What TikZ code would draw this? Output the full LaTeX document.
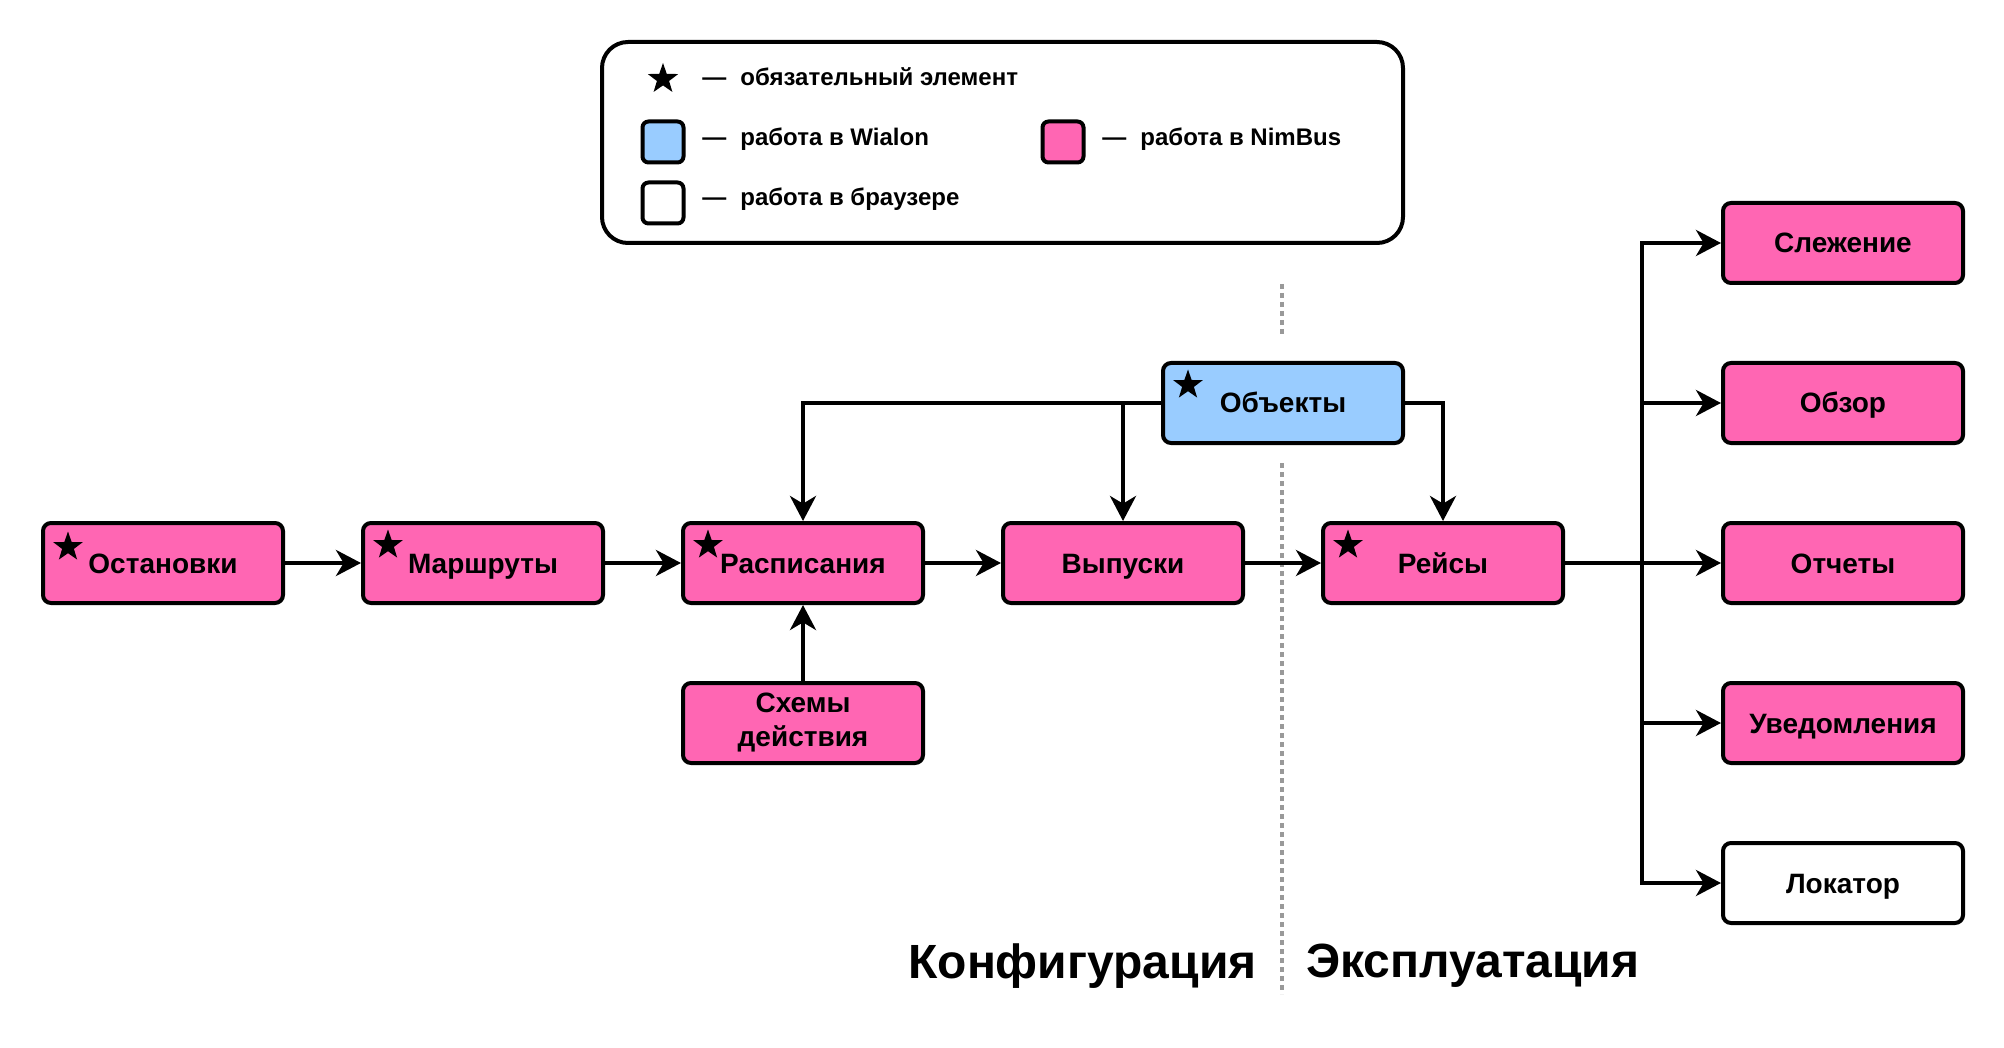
\documentclass[tikz,border=0pt]{standalone}
\usepackage{fontspec}
\setmainfont{Liberation Sans}
\usetikzlibrary{arrows.meta,shapes.geometric}
\definecolor{pinkc}{HTML}{FF66B3}
\definecolor{bluec}{HTML}{99CCFF}
\definecolor{grayc}{HTML}{999999}
\newcommand{\boxstrut}{\rule[-3pt]{0pt}{16pt}}
\newcommand{\tallstrut}{\rule{0pt}{16pt}}
\tikzset{
  box/.style={draw=black, line width=2pt, rounded corners=4pt, minimum width=120pt, minimum height=40pt, inner sep=0pt, font=\fontsize{14pt}{17pt}\selectfont\bfseries, align=center, execute at begin node=\boxstrut},
  pinkbox/.style={box, fill=pinkc},
  bluebox/.style={box, fill=bluec},
  whitebox/.style={box, fill=white},
  arr/.style={line width=2pt, -{Stealth[length=12.5pt, width=13pt, inset=3.8pt]}},
  starmark/.style={star, star points=5, star point ratio=2.5, fill=black, inner sep=0pt, minimum size=15.5pt},
  legsq/.style={draw=black, line width=2pt, rounded corners=3pt, minimum width=20.5pt, minimum height=20.5pt, inner sep=0pt},
  legtxt/.style={anchor=base west, font=\fontsize{12pt}{14pt}\selectfont\bfseries, inner sep=0pt},
  bigtxt/.style={font=\fontsize{24pt}{28pt}\selectfont\bfseries, inner sep=0pt},
  divider/.style={draw=grayc, line width=2pt, dash pattern=on 2.5pt off 2pt}
}
\begin{document}
\begin{tikzpicture}[x=0.5pt, y=-0.5pt]
\useasboundingbox (0,0) rectangle (2004,1048);
% legend
\draw[line width=2pt, rounded corners=13pt] (602,42) rectangle (1403,243);
\node[starmark, minimum size=16pt] (lstar) at (663,79) {};
\node[legtxt] (ld1) at (702,86) {—};
\node[legtxt] (lt1) at (740,86) {обязательный элемент};
\node[legsq, fill=bluec] (lsq1) at (663,142) {};
\node[legtxt] (ld2) at (702,146) {—};
\node[legtxt] (lt2) at (740,146) {работа в Wialon};
\node[legsq, fill=pinkc] (lsq2) at (1063,142) {};
\node[legtxt] (ld3) at (1102,146) {—};
\node[legtxt] (lt3) at (1140,146) {работа в NimBus};
\node[legsq, fill=white] (lsq3) at (663,203) {};
\node[legtxt] (ld4) at (702,206) {—};
\node[legtxt] (lt4) at (740,206) {работа в браузере};
% divider
\coordinate (d1) at (1282,284);
\coordinate (d2) at (1282,336);
\coordinate (d3) at (1282,463);
\coordinate (d4) at (1282,994);
\draw[divider] (d1) -- (d2);
\draw[divider] (d3) -- (d4);
% nodes
\node[pinkbox] (ost) at (163,563) {Остановки};
\node[pinkbox] (mar) at (483,563) {Маршруты};
\node[pinkbox] (rasp) at (803,563) {Расписания};
\node[pinkbox] (vyp) at (1123,563) {Выпуски};
\node[pinkbox] (reis) at (1443,563) {Рейсы};
\node[bluebox] (obj) at (1283,403) {Объекты};
\node[pinkbox, execute at begin node=\tallstrut] (sch) at (803,723) {Схемы\\действия};
\node[pinkbox] (slez) at (1843,243) {Слежение};
\node[pinkbox] (obz) at (1843,403) {Обзор};
\node[pinkbox] (otch) at (1843,563) {Отчеты};
\node[pinkbox] (uved) at (1843,723) {Уведомления};
\node[whitebox] (lok) at (1843,883) {Локатор};
% stars
\node[starmark] (s1) at (68,547) {};
\node[starmark] (s2) at (388,545) {};
\node[starmark] (s3) at (708,545) {};
\node[starmark] (s4) at (1348,545) {};
\node[starmark] (s5) at (1188,385) {};
% edges
\draw[arr] (ost) -- (mar);
\draw[arr] (mar) -- (rasp);
\draw[arr] (rasp) -- (vyp);
\draw[arr] (vyp) -- (reis);
\draw[arr] (sch) -- (rasp);
\draw[arr] (obj.west) -| (rasp.north);
\coordinate (jv) at (obj.west -| vyp.north);
\draw[arr] (jv) -- (vyp.north);
\draw[arr] (obj.east) -| (reis.north);
\coordinate (trunk) at (1642,563);
\draw[arr] (reis) -- (otch);
\draw[arr] (trunk) |- (slez.west);
\draw[arr] (trunk) |- (obz.west);
\draw[arr] (trunk) |- (uved.west);
\draw[arr] (trunk) |- (lok.west);
% section labels
\node[bigtxt, anchor=east] (konf) at (1257,966) {Конфигурация};
\node[bigtxt, anchor=west] (expl) at (1306,966) {Эксплуатация};
\end{tikzpicture}
\end{document}
